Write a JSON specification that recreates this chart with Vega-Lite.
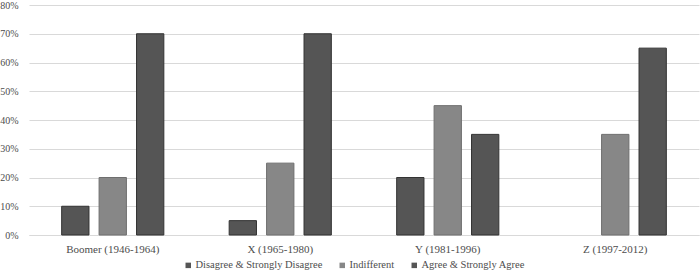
{
  "$schema": "https://vega.github.io/schema/vega-lite/v6.json",
  "width": 670,
  "height": 230,
  "autosize": {"type": "none"},
  "padding": {"left": 29, "top": 5, "right": 1, "bottom": 38},
  "background": "white",
  "data": {
    "values": [
      {"gen": "Boomer (1946-1964)", "resp": "Disagree & Strongly Disagree", "pct": 0.10},
      {"gen": "Boomer (1946-1964)", "resp": "Indifferent", "pct": 0.20},
      {"gen": "Boomer (1946-1964)", "resp": "Agree & Strongly Agree", "pct": 0.70},
      {"gen": "X (1965-1980)", "resp": "Disagree & Strongly Disagree", "pct": 0.05},
      {"gen": "X (1965-1980)", "resp": "Indifferent", "pct": 0.25},
      {"gen": "X (1965-1980)", "resp": "Agree & Strongly Agree", "pct": 0.70},
      {"gen": "Y (1981-1996)", "resp": "Disagree & Strongly Disagree", "pct": 0.20},
      {"gen": "Y (1981-1996)", "resp": "Indifferent", "pct": 0.45},
      {"gen": "Y (1981-1996)", "resp": "Agree & Strongly Agree", "pct": 0.35},
      {"gen": "Z (1997-2012)", "resp": "Indifferent", "pct": 0.35},
      {"gen": "Z (1997-2012)", "resp": "Agree & Strongly Agree", "pct": 0.65}
    ]
  },
  "mark": {"type": "bar", "strokeWidth": 1},
  "encoding": {
    "x": {
      "field": "gen",
      "type": "nominal",
      "sort": null,
      "scale": {"paddingInner": 0.39, "paddingOuter": 0.195},
      "axis": {
        "title": null,
        "labelAngle": 0,
        "labelFontSize": 11,
        "labelColor": "#4d4d4d",
        "ticks": false,
        "domain": true,
        "domainColor": "#d9d9d9",
        "labelPadding": 8
      }
    },
    "xOffset": {
      "field": "resp",
      "type": "nominal",
      "sort": ["Disagree & Strongly Disagree", "Indifferent", "Agree & Strongly Agree"],
      "scale": {
        "domain": ["Disagree & Strongly Disagree", "Indifferent", "Agree & Strongly Agree"],
        "paddingInner": 0.27,
        "paddingOuter": 0
      }
    },
    "y": {
      "field": "pct",
      "type": "quantitative",
      "scale": {"domain": [0, 0.8], "nice": false},
      "axis": {
        "title": null,
        "format": ".0%",
        "values": [0, 0.1, 0.2, 0.3, 0.4, 0.5, 0.6, 0.7, 0.8],
        "labelFontSize": 10,
        "labelColor": "#4d4d4d",
        "ticks": false,
        "domain": false,
        "grid": true,
        "gridColor": "#d9d9d9",
        "gridWidth": 1,
        "labelPadding": 11
      }
    },
    "fill": {
      "field": "resp",
      "type": "nominal",
      "sort": ["Disagree & Strongly Disagree", "Indifferent", "Agree & Strongly Agree"],
      "scale": {
        "domain": ["Disagree & Strongly Disagree", "Indifferent", "Agree & Strongly Agree"],
        "range": ["#555555", "#878787", "#555555"]
      },
      "legend": {
        "title": null,
        "orient": "none",
        "direction": "horizontal",
        "legendX": 154,
        "legendY": 255,
        "symbolType": "square",
        "symbolSize": 30,
        "symbolStrokeWidth": 0,
        "labelFontSize": 10.5,
        "labelColor": "#4d4d4d",
        "labelOffset": 2,
        "labelLimit": 300,
        "columnPadding": 14
      }
    },
    "stroke": {
      "field": "resp",
      "type": "nominal",
      "scale": {
        "domain": ["Disagree & Strongly Disagree", "Indifferent", "Agree & Strongly Agree"],
        "range": ["#333333", "#6e6e6e", "#333333"]
      },
      "legend": null
    }
  },
  "config": {
    "font": "Liberation Serif",
    "view": {"stroke": null}
  }
}
